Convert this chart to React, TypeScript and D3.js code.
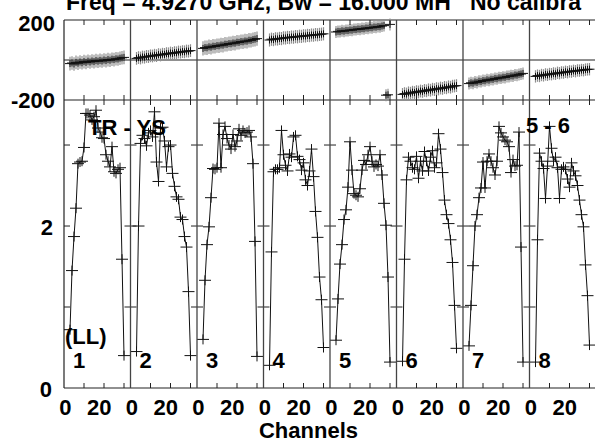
import React from "react";
import * as d3 from "d3";

// ---------- data ----------
const ifLabels = ["1", "2", "3", "4", "5", "6", "7", "8"];
const channels = [3, 4, 5, 6, 7, 8, 9, 10, 11, 12, 13, 14, 15, 16, 17, 18, 19, 20, 21, 22, 23, 24, 25, 26, 27, 28, 29, 30];

const amp1 = [0.72, 1.45, 1.87, 2.22, 2.77, 2.79, 2.8, 2.97, 3.39, 3.39, 3.37, 3.31, 3.35, 3.43, 3.21, 3.16, 3.09, 3.08, 2.88, 2.8, 2.73, 2.98, 2.67, 2.65, 2.7, 2.72, 1.59, 0.4];
const amp2 = [0.45, 2.0, 3.02, 3.12, 3.08, 2.99, 3.15, 3.18, 3.1, 3.41, 2.79, 2.55, 3.21, 3.22, 3.05, 2.73, 2.98, 3.0, 2.65, 2.49, 2.36, 2.33, 2.11, 2.08, 1.87, 1.74, 1.19, 0.4];
const amp3 = [0.6, 1.33, 1.77, 1.99, 2.35, 2.71, 2.7, 2.72, 3.27, 2.72, 3.13, 3.23, 3.08, 3.0, 2.95, 3.13, 2.98, 3.05, 3.2, 3.12, 3.18, 3.15, 3.16, 3.18, 3.1, 2.77, 1.81, 0.39];
const amp4 = [0.28, 1.68, 2.67, 2.7, 2.7, 2.72, 3.18, 2.88, 2.75, 2.68, 2.89, 2.85, 3.1, 3.12, 2.86, 2.82, 2.69, 2.78, 2.57, 2.5, 2.68, 2.95, 2.61, 2.18, 1.86, 1.37, 1.09, 0.5];
const amp5 = [0.59, 1.1, 1.53, 1.77, 2.08, 2.2, 2.48, 3.04, 2.69, 2.4, 2.38, 2.36, 2.46, 2.69, 2.81, 2.76, 2.88, 2.98, 2.8, 2.73, 2.76, 2.74, 2.88, 2.63, 2.28, 2.01, 1.37, 0.32];
const amp6 = [0.33, 1.59, 2.57, 2.85, 2.8, 2.72, 2.7, 2.86, 2.59, 2.8, 2.68, 2.92, 2.8, 2.68, 2.85, 2.93, 2.72, 2.78, 3.14, 2.95, 2.66, 2.32, 2.14, 2.03, 1.83, 1.55, 1.02, 0.49];
const amp7 = [0.52, 1.02, 1.51, 2.0, 2.14, 2.35, 2.47, 2.79, 2.47, 2.8, 2.89, 2.8, 2.72, 2.63, 2.8, 3.23, 3.15, 3.1, 3.06, 3.04, 2.98, 2.66, 2.82, 2.74, 2.75, 3.16, 1.74, 0.32];
const amp8 = [0.32, 1.83, 2.9, 2.8, 2.71, 2.34, 2.74, 3.23, 2.96, 2.8, 2.85, 2.72, 2.34, 2.7, 2.73, 2.7, 2.58, 2.48, 2.78, 2.68, 2.62, 2.5, 2.32, 2.14, 1.99, 1.52, 1.14, 0.53];

const ph1 = [-18, -15, -20, -12, -16, -10, -14, -8, -12, -6, -10, -5, -8, -3, -6, -2, -5, 0, -3, 2, -1, 4, 2, 6, 5, 9, 11, 13];
const ph2 = [8, 12, 10, 15, 14, 18, 17, 21, 20, 24, 22, 27, 25, 29, 28, 32, 31, 35, 33, 37, 36, 40, 39, 42, 41, 45, 44, 47];
const ph3 = [58, 62, 61, 66, 64, 69, 68, 72, 71, 75, 74, 79, 78, 82, 81, 85, 84, 89, 88, 92, 91, 95, 94, 99, 98, 102, 104, 107];
const ph4 = [100, 104, 102, 106, 105, 108, 107, 111, 110, 113, 112, 115, 114, 117, 116, 119, 118, 121, 120, 123, 122, 125, 124, 127, 126, 128, 129, 131];
const ph5 = [140, 143, 142, 146, 144, 148, 147, 150, 149, 153, 152, 155, 154, 157, 156, 160, 159, 162, 161, 165, 164, 167, 166, 170, 172, -176, -174, 178];
const ph6 = [-172, -168, -170, -164, -166, -161, -163, -158, -160, -155, -157, -152, -154, -149, -151, -146, -148, -143, -145, -140, -142, -137, -139, -134, -136, -131, -130, -128];
const ph7 = [-118, -114, -116, -110, -112, -106, -108, -103, -104, -99, -101, -96, -97, -92, -94, -89, -90, -86, -87, -82, -83, -79, -80, -75, -76, -72, -70, -67];
const ph8 = [-82, -78, -80, -75, -77, -72, -74, -70, -71, -67, -69, -64, -66, -62, -63, -59, -61, -57, -58, -54, -56, -52, -53, -50, -51, -48, -47, -46];

const phaseErr = [34, 32, 36, 33, 30, 32, 30, 31];

const ampSeries = [amp1, amp2, amp3, amp4, amp5, amp6, amp7, amp8];
const phaseSeries = [ph1, ph2, ph3, ph4, ph5, ph6, ph7, ph8];

const chanTicks = [10, 20, 30];
const chanTickLabels = [0, 20];
const ampTicks = [1, 2, 3];
const ampTickLabels = [0, 2];
const phaseTickLabels = [200, -200];

const titleText = "Freq = 4.9270 GHz, Bw = 16.000 MH   No calibra";
const xAxisTitle = "Channels";
const baselineText = "TR - YS";
const ifPairText = "5 - 6";
const polText = "(LL)";

// ---------- layout ----------
const W = 595;
const H = 443;
const FONT = "'Liberation Sans', Arial, Helvetica, sans-serif";

export default function App() {
  const ifX = d3.scaleLinear().domain([0, 8]).range([64, 596]);
  const chanX = d3.scaleLinear().domain([0, 33.25]).range([0, 66.5]);
  const ampY = d3.scaleLinear().domain([0, 3.556]).range([388, 100]);
  const phY = d3.scaleLinear().domain([-200, 200]).range([100, 20]);

  const top = phY(200);
  const mid = phY(-200);
  const bottom = ampY(0);
  const left = ifX(0);
  const right = ifX(8);

  const frameStroke = "#222";
  const elements: React.ReactNode[] = [];

  ifLabels.forEach((lab, i) => {
    const x0 = ifX(i);
    const amps = ampSeries[i];
    const phs = phaseSeries[i];
    const line = d3
      .line<number>()
      .x((_, k) => x0 + chanX(channels[k]))
      .y((d) => ampY(d));

    elements.push(
      <path key={`al${i}`} d={line(amps) || ""} fill="none" stroke="#111" strokeWidth={1} />
    );
    amps.forEach((a, k) => {
      const cx = x0 + chanX(channels[k]);
      const cy = ampY(a);
      elements.push(
        <g key={`ac${i}-${k}`} stroke="#111" strokeWidth={1}>
          <line x1={cx - 6} x2={cx + 6} y1={cy} y2={cy} />
          <line x1={cx} x2={cx} y1={cy - 5} y2={cy + 5} />
        </g>
      );
    });
    phs.forEach((p, k) => {
      const cx = x0 + chanX(channels[k]);
      const e = phaseErr[i];
      elements.push(
        <line key={`pe${i}-${k}`} x1={cx} x2={cx} y1={phY(p + e)} y2={phY(p - e)} stroke="#909090" strokeWidth={1.2} />
      );
    });
    phs.forEach((p, k) => {
      const cx = x0 + chanX(channels[k]);
      const cy = phY(p);
      elements.push(
        <g key={`pc${i}-${k}`} stroke="#111" strokeWidth={1}>
          <line x1={cx - 5} x2={cx + 5} y1={cy} y2={cy} />
          <line x1={cx} x2={cx} y1={cy - 3.5} y2={cy + 3.5} />
        </g>
      );
    });

    chanTicks.forEach((t) => {
      const tx = x0 + chanX(t);
      elements.push(
        <g key={`xt${i}-${t}`} stroke={frameStroke} strokeWidth={1}>
          <line x1={tx} x2={tx} y1={top} y2={top + 5} />
          <line x1={tx} x2={tx} y1={mid - 5} y2={mid + 5} />
          <line x1={tx} x2={tx} y1={bottom} y2={bottom - 5} />
        </g>
      );
    });
    ampTicks.forEach((t) => {
      const ty = ampY(t);
      elements.push(
        <line key={`yt${i}-${t}`} x1={i === 0 ? x0 : x0 - 6} x2={x0 + 6} y1={ty} y2={ty} stroke={frameStroke} strokeWidth={1} />
      );
    });
    if (i > 0) {
      elements.push(
        <line key={`sep${i}`} x1={x0} x2={x0} y1={top} y2={bottom} stroke="#444" strokeWidth={1.3} />
      );
    }
    chanTickLabels.forEach((v) => {
      elements.push(
        <text key={`xl${i}-${v}`} x={x0 + chanX(v) + 7.5} y={415} textAnchor="end" fontSize={22} fontWeight="bold" fontFamily={FONT} fill="#000">
          {String(v)}
        </text>
      );
    });
    elements.push(
      <text key={`if${i}`} x={x0 + 9} y={368} fontSize={22} fontWeight="bold" fontFamily={FONT} fill="#000">
        {lab}
      </text>
    );
  });

  return (
    <svg
      width={W}
      height={H}
      viewBox={`0 0 ${W} ${H}`}
      style={{ position: "absolute", left: 0, top: 0, background: "#fff", overflow: "hidden" }}
    >
      <rect x={0} y={0} width={W} height={H} fill="#fff" />
      <g stroke={frameStroke} strokeWidth={1.2} fill="none">
        <line x1={left} x2={right} y1={top} y2={top} />
        <line x1={left} x2={right} y1={mid} y2={mid} />
        <line x1={left} x2={right} y1={bottom} y2={bottom} />
        <line x1={left} x2={right} y1={phY(0)} y2={phY(0)} />
        <line x1={left} x2={left} y1={top} y2={bottom} />
        <line x1={right} x2={right} y1={top} y2={bottom} />
      </g>
      {elements}
      {phaseTickLabels.map((v) => (
        <text key={`pl${v}`} x={55} y={phY(v) + (v > 0 ? 11 : 8)} textAnchor="end" fontSize={22} fontWeight="bold" fontFamily={FONT}>
          {String(v)}
        </text>
      ))}
      {ampTickLabels.map((v) => (
        <text key={`aml${v}`} x={v === 0 ? 52 : 53} y={ampY(v) + 8.5} textAnchor="end" fontSize={22} fontWeight="bold" fontFamily={FONT}>
          {String(v)}
        </text>
      ))}
      <text x={66} y={9.5} fontSize={23} fontWeight="bold" fontFamily={FONT} style={{ whiteSpace: "pre" }}>
        {titleText}
      </text>
      <text x={308.5} y={438} textAnchor="middle" fontSize={22} fontWeight="bold" fontFamily={FONT}>
        {xAxisTitle}
      </text>
      <text x={88} y={135} fontSize={22} fontWeight="bold" fontFamily={FONT}>
        {baselineText}
      </text>
      <text x={526} y={133} fontSize={22} fontWeight="bold" fontFamily={FONT}>
        {ifPairText}
      </text>
      <text x={65} y={344} fontSize={22} fontWeight="bold" fontFamily={FONT}>
        {polText}
      </text>
    </svg>
  );
}
